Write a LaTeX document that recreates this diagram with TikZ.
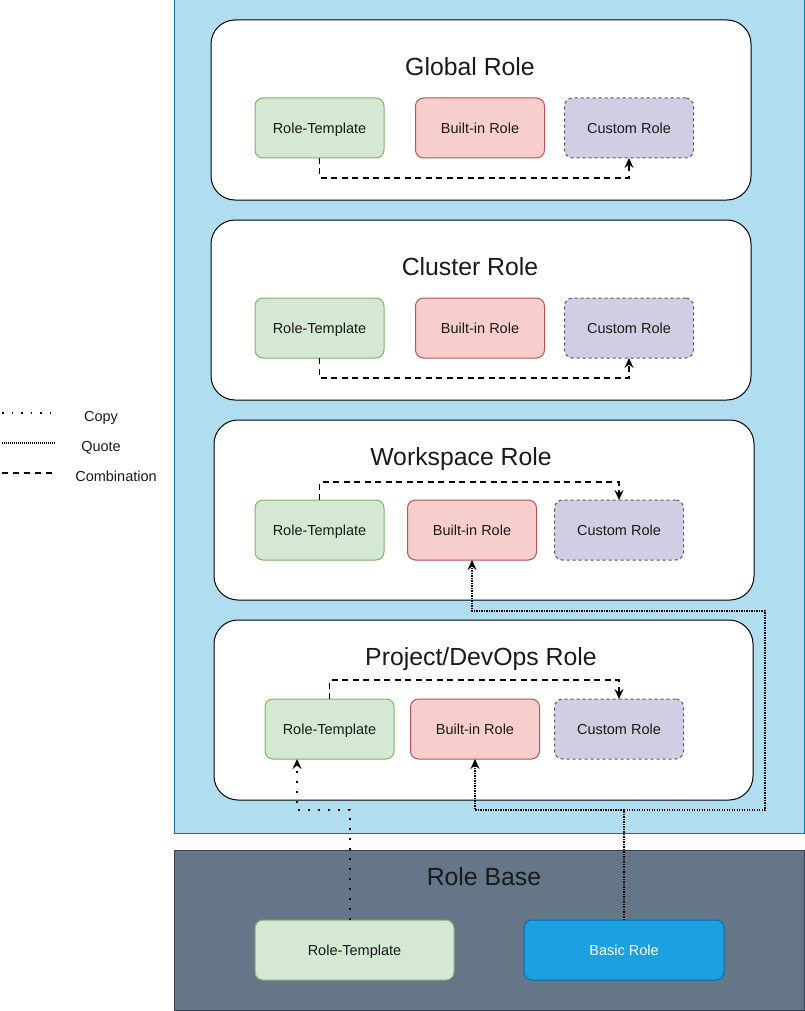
\documentclass[tikz,border=0pt]{standalone}
\usepackage{fontspec}
\setmainfont{Liberation Sans}
\usetikzlibrary{arrows.meta}
\definecolor{panelfill}{HTML}{B1DDF0}
\definecolor{panelline}{HTML}{10739E}
\definecolor{basefill}{HTML}{647687}
\definecolor{baseline}{HTML}{314354}
\definecolor{gfill}{HTML}{D5E8D4}
\definecolor{gline}{HTML}{82B366}
\definecolor{rfill}{HTML}{F8CECC}
\definecolor{rline}{HTML}{B85450}
\definecolor{pfill}{HTML}{D0CEE2}
\definecolor{pline}{HTML}{56517E}
\definecolor{bfill}{HTML}{1BA1E2}
\definecolor{bline}{HTML}{006EAF}
\definecolor{txt}{HTML}{1A1A1A}
\tikzset{
  group/.style={draw=black, line width=1pt, fill=white, rounded corners=24pt, inner sep=0pt, outer sep=0pt},
  title/.style={font=\fontsize{24.8}{28}\selectfont, text=txt, inner sep=0pt, text height=20pt, text depth=3pt},
  item/.style={rounded corners=8pt, line width=1pt, minimum width=129pt, minimum height=60pt, inner sep=0pt, outer sep=0pt, font=\fontsize{14.5}{17}\selectfont, text=txt, text height=12.5pt, text depth=1pt},
  tmpl/.style={item, draw=gline, fill=gfill},
  builtin/.style={item, draw=rline, fill=rfill},
  custom/.style={item, draw=pline, fill=pfill, dashed},
  basic/.style={item, draw=bline, fill=bfill, text=white},
  tip/.style={-{Stealth[length=10pt,width=9pt,inset=3.5pt]}},
  comb/.style={line width=1.6pt, dash pattern=on 6pt off 4.5pt},
  copyl/.style={line width=2pt, dash pattern=on 1.8pt off 8.2pt},
  quotel/.style={line width=2pt, dash pattern=on 1.4pt off 1.1pt},
  legend/.style={font=\fontsize{14.5}{17}\selectfont, text=txt, inner sep=0pt, text height=12.5pt, text depth=1pt},
}
\begin{document}
\begin{tikzpicture}[x=1pt,y=-1pt]
\useasboundingbox (0,0) rectangle (805,1011);
% panels
\node[draw=panelline, fill=panelfill, line width=1pt, minimum width=630pt, minimum height=833pt, inner sep=0pt, outer sep=0pt] (panel) at (489,416.5) {};
\node[draw=baseline, fill=basefill, line width=1pt, minimum width=630pt, minimum height=160pt, inner sep=0pt, outer sep=0pt] (basepanel) at (489,930) {};
% groups
\node[group, minimum width=540pt, minimum height=180pt] (global) at (481,110) {};
\node[group, minimum width=540pt, minimum height=180pt] (cluster) at (481,310) {};
\node[group, minimum width=540pt, minimum height=180pt] (workspace) at (484,510) {};
\node[group, minimum width=539pt, minimum height=180pt] (project) at (483.5,710) {};
% titles
\node[title] (tglobal) at (470,67) {Global Role};
\node[title] (tcluster) at (470,267) {Cluster Role};
\node[title] (tworkspace) at (461,457) {Workspace Role};
\node[title] (tproject) at (481,657) {Project/DevOps Role};
\node[title] (tbase) at (484,877) {Role Base};
% global items
\node[tmpl] (gRT) at (319.5,128) {Role-Template};
\node[builtin] (gBR) at (480,128) {Built-in Role};
\node[custom] (gCR) at (629,128) {Custom Role};
% cluster items
\node[tmpl] (cRT) at (319.5,328) {Role-Template};
\node[builtin] (cBR) at (480,328) {Built-in Role};
\node[custom] (cCR) at (629,328) {Custom Role};
% workspace items
\node[tmpl] (wRT) at (319.5,530) {Role-Template};
\node[builtin] (wBR) at (472,530) {Built-in Role};
\node[custom] (wCR) at (619,530) {Custom Role};
% project items
\node[tmpl] (pRT) at (329.5,729) {Role-Template};
\node[builtin] (pBR) at (475,729) {Built-in Role};
\node[custom] (pCR) at (619,729) {Custom Role};
% base items
\node[tmpl, minimum width=199pt] (bRT) at (354.5,950) {Role-Template};
\node[basic, minimum width=200pt] (bBR) at (624,950) {Basic Role};
% combination connectors
\draw[comb, tip] (gRT.south) -- ++(0,20) -| (gCR.south);
\draw[comb, tip] (cRT.south) -- ++(0,20) -| (cCR.south);
\draw[comb, tip] (wRT.north) -- ++(0,-18) -| (wCR.north);
\draw[comb, tip] (pRT.north) -- ++(0,-19) -| (pCR.north);
% copy connector
\draw[copyl, tip] ([xshift=-5pt]bRT.north) -- ++(0,-110) -| ([xshift=-32.5pt]pRT.south);
% quote connectors
\coordinate (qsplit) at (624,810);
\coordinate (qright) at (765,810);
\coordinate (qtop) at (765,611);
\draw[quotel] (bBR.north) -- (qsplit);
\draw[quotel, tip] (qsplit) -| (pBR.south);
\draw[quotel, tip] (qsplit) -- (qright) -- (qtop) -| (wBR.south);
% legend
\coordinate (l1a) at (2,413); \coordinate (l1b) at (56,413);
\coordinate (l2a) at (2,443); \coordinate (l2b) at (56,443);
\coordinate (l3a) at (2,473); \coordinate (l3b) at (56,473);
\draw[line width=1.5pt, dash pattern=on 1.5pt off 8pt] (l1a) -- (l1b);
\draw[line width=1.5pt, dash pattern=on 1pt off 1pt] (l2a) -- (l2b);
\draw[line width=1.5pt, dash pattern=on 6pt off 5pt] (l3a) -- (l3b);
\node[legend] (lcopy) at (101,416) {Copy};
\node[legend] (lquote) at (101,446) {Quote};
\node[legend] (lcomb) at (116,476) {Combination};
\end{tikzpicture}
\end{document}
